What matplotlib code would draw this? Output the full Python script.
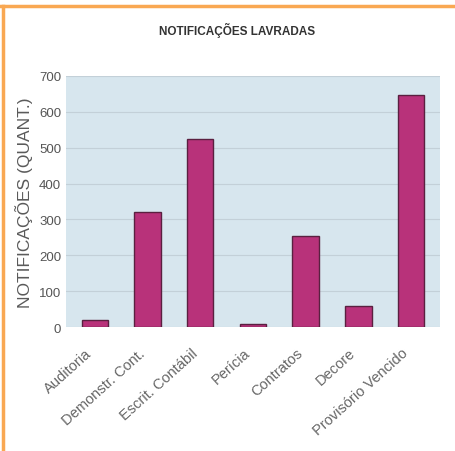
import numpy as np
import matplotlib.pyplot as plt
import matplotlib.transforms as mtransforms
from matplotlib.lines import Line2D

plt.rcParams["font.family"] = ["Liberation Sans", "DejaVu Sans"]

categorias = ["Auditoria", "Demonstr. Cont.", "Escrit. Contábil", "Perícia",
              "Contratos", "Decore", "Provisório Vencido"]
valores = [20, 322, 525, 10, 255, 58, 647]
yticks = [0, 100, 200, 300, 400, 500, 600, 700]

fig = plt.figure(figsize=(4.55, 4.52), dpi=100)
fig.patch.set_facecolor("white")

# moldura laranja (topo e esquerda)
fig.add_artist(Line2D([0, 1], [1 - 7/452, 1 - 7/452], transform=fig.transFigure,
                      color="#f9a852", lw=2.5))
fig.add_artist(Line2D([3/455, 3/455], [0, 1 - 7/452], transform=fig.transFigure,
                      color="#f9a852", lw=2.5))

ax = fig.add_axes([0.145, 0.274, 0.822, 0.556])
ax.set_facecolor("#d7e6ee")
x = np.arange(len(categorias))
ax.bar(x, valores, width=0.5, color="#b8327a", edgecolor="#5a2040", lw=1.0, zorder=3)

ax.set_ylim(0, 700)
ax.set_xlim(-0.55, len(categorias) - 0.45)
ax.set_yticks(yticks)
ax.yaxis.grid(True, color="#c3d0d8", lw=0.8, zorder=0)
ax.tick_params(axis="y", length=0, colors="#555555", labelsize=9.5)
ax.tick_params(axis="x", length=0, pad=17)
ax.set_xticks(x)
ax.set_xticklabels(categorias, rotation=42, ha="right", va="center",
                   rotation_mode="anchor", fontsize=10.5, color="#666666")
desloc = mtransforms.ScaledTranslation(-5/100, 0, fig.dpi_scale_trans)
for lbl in ax.get_xticklabels():
    lbl.set_transform(lbl.get_transform() + desloc)
for s in ax.spines.values():
    s.set_visible(False)

ax.set_ylabel("NOTIFICAÇÕES (QUANT.)", fontsize=12.5, color="#5a5a5a", labelpad=4)
fig.text(0.52, 1 - 30/452, "NOTIFICAÇÕES LAVRADAS", ha="center", va="center",
         fontsize=8.5, fontweight="bold", color="#333333")

plt.savefig("out.png", dpi=100)
